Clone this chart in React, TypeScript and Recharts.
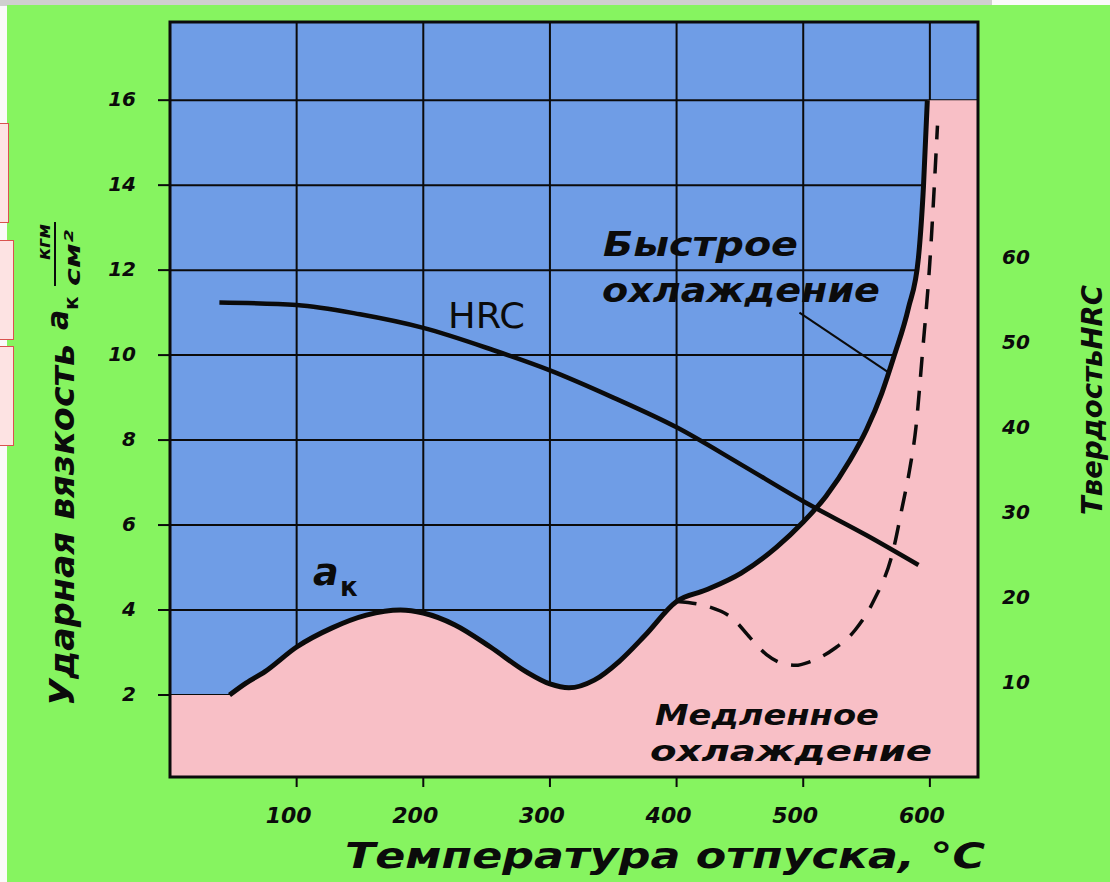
import React from 'react'
import { ComposedChart, Area, Line, XAxis, YAxis, CartesianGrid, ReferenceArea, ReferenceLine } from 'recharts'

const GREEN = '#86f460'
const BLUE = '#6f9de6'
const PINK = '#f8bfc6'
const INK = '#0b0b0b'

const X_MAX = 638
const AK_MIN = 0.07
const AK_MAX = 17.84

// температура отпуска, °C
const xTicks = [100, 200, 300, 400, 500, 600]
const akTicks = [2, 4, 6, 8, 10, 12, 14, 16]
const hrcTicks = [10, 20, 30, 40, 50, 60]

// a_k, быстрое охлаждение (кгм/см²)
const fastT = [47, 60, 75, 100, 128, 155, 182, 200, 225, 253, 281, 300, 315, 335, 355, 375, 400, 423, 451, 479, 500, 518, 537, 550, 562, 572, 583, 591, 595, 598]
const fastAk = [2.0, 2.28, 2.55, 3.13, 3.58, 3.88, 4.0, 3.93, 3.65, 3.13, 2.55, 2.26, 2.17, 2.35, 2.8, 3.4, 4.2, 4.47, 4.87, 5.48, 6.07, 6.68, 7.53, 8.25, 9.1, 10.0, 11.1, 12.3, 14.0, 16.0]

// a_k, медленное охлаждение
const slowT = [400, 425, 445, 458, 471, 483, 494, 505, 525, 541, 556, 571, 578, 584, 589, 594, 600, 606]
const slowAk = [4.2, 4.08, 3.78, 3.35, 2.95, 2.75, 2.7, 2.78, 3.1, 3.53, 4.24, 5.4, 6.4, 7.3, 8.3, 10.0, 12.2, 15.4]

// твердость HRC
const hrcT = [39, 100, 150, 200, 255, 300, 350, 400, 450, 500, 550, 591]
const hrcV = [56.2, 55.9, 54.8, 53.2, 50.6, 48.2, 45.0, 41.5, 37.2, 32.8, 28.8, 25.3]

const zip = (t: number[], v: number[], key: string) => t.map((x, i) => ({ t: x, [key]: v[i] }))

const fastData = zip(fastT, fastAk, 'ak')
const areaData = [{ t: 0, ak: 2 }, ...fastData, { t: X_MAX, ak: 16 }]
const slowData = zip(slowT, slowAk, 'ak')
const hrcData = zip(hrcT, hrcV, 'hrc')

const hand = {
  fontFamily: '"DejaVu Sans", sans-serif',
  fontStyle: 'italic' as const,
  fontWeight: 700,
  fill: INK,
}

const LeftTick = (p: any) => (
  <text x={p.x - 20} y={p.y + 6} textAnchor="end" fontSize={20} {...hand}>{p.payload.value}</text>
)
const RightTick = (p: any) => (
  <text x={p.x + 22} y={p.y - 6} textAnchor="start" fontSize={20} {...hand}>{p.payload.value}</text>
)
const BottomTick = (p: any) => (
  <text x={p.x - 8} y={p.y + 34} textAnchor="middle" fontSize={22} {...hand}>{p.payload.value}</text>
)

function Decor() {
  return (
    <>
      <div style={{ position: 'absolute', left: 0, top: 0, width: 1110, height: 882, background: '#fafafa' }} />
      <div style={{ position: 'absolute', left: 0, top: 0, width: 992, height: 6, background: '#cfcfcf' }} />
      <div style={{ position: 'absolute', left: 7, top: 5, width: 1103, height: 877, background: GREEN }} />
      <div style={{ position: 'absolute', left: -6, top: 123, width: 13, height: 98, background: '#fde3e3', border: '1.5px solid #d9534f' }} />
      <div style={{ position: 'absolute', left: -6, top: 240, width: 18, height: 98, background: '#fde3e3', border: '1.5px solid #d9534f' }} />
      <div style={{ position: 'absolute', left: -6, top: 346, width: 18, height: 98, background: '#fde3e3', border: '1.5px solid #d9534f' }} />
    </>
  )
}

function Labels() {
  return (
    <svg width={1110} height={882} style={{ position: 'absolute', left: 0, top: 0, pointerEvents: 'none' }}>
      <g {...hand}>
        <text x={603} y={256} fontSize={34} textLength={195} lengthAdjust="spacingAndGlyphs">Быстрое</text>
        <text x={602} y={302} fontSize={34} textLength={278} lengthAdjust="spacingAndGlyphs">охлаждение</text>
        <text x={655} y={725} fontSize={29} textLength={224} lengthAdjust="spacingAndGlyphs">Медленное</text>
        <text x={650} y={761} fontSize={29} textLength={282} lengthAdjust="spacingAndGlyphs">охлаждение</text>
        <text x={313} y={585} fontSize={38}>a</text>
        <text x={340} y={596} fontSize={26} fontStyle="normal">к</text>
        <text x={345} y={868} fontSize={36} textLength={640} lengthAdjust="spacingAndGlyphs">Температура  отпуска, °C</text>
      </g>
      <text x={448} y={328} fontSize={36} fontFamily='"DejaVu Sans", sans-serif' fill={INK} textLength={77} lengthAdjust="spacingAndGlyphs">HRC</text>
      <g transform="translate(74, 706) rotate(-90)" {...hand}>
        <text x={0} y={0} fontSize={34} textLength={362} lengthAdjust="spacingAndGlyphs">Ударная вязкость</text>
        <text x={376} y={-6} fontSize={30}>a</text>
        <text x={396} y={4} fontSize={20} fontStyle="normal">к</text>
        <text x={446} y={-24} fontSize={18} textLength={36} lengthAdjust="spacingAndGlyphs">кгм</text>
        <line x1={420} y1={-19} x2={484} y2={-19} stroke={INK} strokeWidth={2} />
        <text x={420} y={6} fontSize={22} textLength={56} lengthAdjust="spacingAndGlyphs">см²</text>
      </g>
      <g transform="translate(1102, 515) rotate(-90)" {...hand}>
        <text x={0} y={0} fontSize={28} textLength={230} lengthAdjust="spacingAndGlyphs">ТвердостьHRC</text>
      </g>
    </svg>
  )
}

export default function App() {
  return (
    <div style={{ position: 'absolute', left: 0, top: 0, width: 1110, height: 882, overflow: 'hidden' }}>
      <Decor />
      <div style={{ position: 'absolute', left: 0, top: 0 }}>
        <ComposedChart width={1110} height={882} margin={{ top: 22, right: 52, bottom: 45, left: 110 }}>
          <CartesianGrid fill={BLUE} stroke={INK} strokeWidth={2} horizontal={false} vertical={false} />
          <XAxis
            type="number"
            dataKey="t"
            domain={[0, X_MAX]}
            ticks={xTicks}
            allowDataOverflow
            height={60}
            axisLine={false}
            tickSize={10}
            tickLine={{ stroke: INK, strokeWidth: 2 }}
            tick={BottomTick}
          />
          <YAxis
            type="number"
            domain={[AK_MIN, AK_MAX]}
            ticks={akTicks}
            allowDataOverflow
            width={60}
            axisLine={false}
            tickSize={12}
            tickLine={{ stroke: INK, strokeWidth: 2 }}
            tick={LeftTick}
          />
          <YAxis
            yAxisId="hrc"
            orientation="right"
            type="number"
            domain={[AK_MIN * 5, AK_MAX * 5]}
            ticks={hrcTicks}
            allowDataOverflow
            width={80}
            axisLine={false}
            tickLine={false}
            tickSize={0}
            tick={RightTick}
          />
          <Area
            data={areaData}
            dataKey="ak"
            type="monotone"
            fill={PINK}
            fillOpacity={1}
            stroke="none"
            baseValue={AK_MIN}
            isAnimationActive={false}
          />
          <CartesianGrid stroke={INK} strokeWidth={2} fill="none" />
          <ReferenceArea x1={0} x2={X_MAX} y1={AK_MIN} y2={AK_MAX} fill="none" stroke={INK} strokeWidth={3} ifOverflow="visible" />
          <Line data={slowData} dataKey="ak" type="monotone" stroke={INK} strokeWidth={3.5} strokeDasharray="20 14" dot={false} isAnimationActive={false} />
          <Line data={fastData} dataKey="ak" type="monotone" stroke={INK} strokeWidth={5} dot={false} isAnimationActive={false} />
          <Line data={hrcData} yAxisId="hrc" dataKey="hrc" type="monotone" stroke={INK} strokeWidth={4.5} dot={false} isAnimationActive={false} />
          <ReferenceLine segment={[{ x: 497, y: 11.0 }, { x: 567, y: 9.6 }]} stroke={INK} strokeWidth={2} ifOverflow="visible" />
        </ComposedChart>
      </div>
      <Labels />
    </div>
  )
}
